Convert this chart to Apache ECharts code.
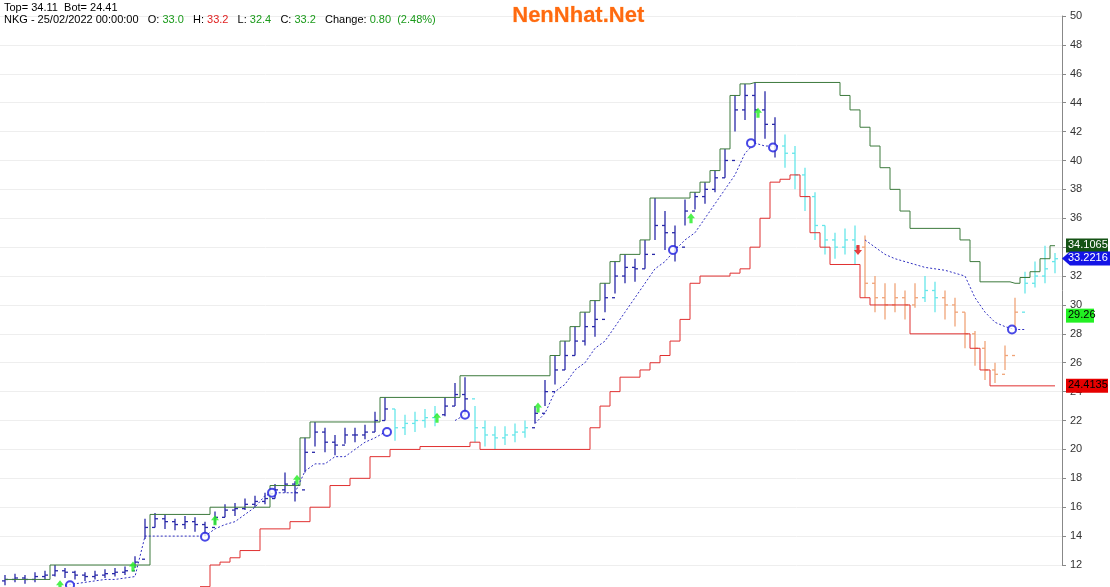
<!DOCTYPE html><html><head><meta charset="utf-8">
<script src="https://cdn.jsdelivr.net/npm/echarts@6/dist/echarts.min.js"></script>
<style>html,body{margin:0;background:#fff}#c{width:1110px;height:587px}</style></head><body><div id="c"></div>
<script>
const closes=[11.0,11.1,11.0,11.2,11.3,11.6,11.5,11.3,11.2,11.3,11.4,11.5,11.6,12.2,14.6,15.2,15.0,14.8,15.0,14.8,14.6,15.3,15.8,15.9,16.2,16.4,16.6,17.2,17.6,17.0,19.8,21.2,20.5,20.3,21.0,21.0,21.2,22.0,22.8,21.5,21.8,22.0,22.2,22.4,23.0,23.8,23.5,21.5,21.0,20.8,21.0,21.2,21.5,22.5,24.0,25.5,26.5,27.5,28.5,29.0,30.5,32.0,32.6,32.5,33.5,35.5,35.0,34.0,36.5,37.5,38.0,38.8,40.0,43.5,44.5,43.5,42.5,41.0,40.5,39.0,37.5,35.5,34.5,34.0,34.5,34.0,31.5,30.5,30.0,30.5,30.0,30.5,31.0,30.5,30.0,29.5,28.0,27.0,25.5,25.2,26.5,29.5,31.5,32.0,32.5,33.2];
const opens=[10.9,11.0,11.1,11.0,11.2,11.3,11.6,11.5,11.3,11.2,11.3,11.4,11.5,11.6,12.4,14.6,15.2,15.0,14.8,15.0,14.8,14.6,15.3,15.8,15.9,16.2,16.4,16.6,17.2,17.6,17.2,19.8,21.2,20.5,20.3,21.0,21.0,21.2,22.0,22.8,21.5,21.8,22.0,22.2,22.4,23.0,23.8,23.5,21.5,21.0,20.8,21.0,21.2,21.5,22.5,24.0,25.5,26.5,27.5,28.5,29.0,30.5,32.0,32.6,32.5,33.5,35.5,35.0,34.0,36.5,37.5,38.0,38.8,40.0,43.5,44.5,43.5,42.5,41.0,40.5,39.0,37.5,35.5,34.5,34.0,34.5,34.0,31.5,30.5,30.0,30.5,30.0,30.5,31.0,30.5,30.0,29.5,28.0,27.0,25.5,25.2,26.5,29.5,31.5,32.0,33.0];
const highs=[11.3,11.4,11.3,11.5,11.6,12.0,11.8,11.6,11.5,11.6,11.7,11.8,11.9,12.6,15.2,15.6,15.5,15.2,15.4,15.3,15.0,15.7,16.2,16.3,16.6,16.8,17.0,17.6,18.4,17.8,20.8,21.9,21.5,21.0,21.5,21.5,21.7,22.6,23.6,22.8,22.4,22.6,22.8,23.0,23.6,24.6,25.0,23.0,22.0,21.6,21.6,21.8,22.0,23.0,24.8,26.5,27.5,28.5,29.5,30.3,31.5,33.0,33.5,33.2,34.5,37.4,36.5,35.5,37.3,37.8,38.5,39.3,40.8,44.5,45.3,45.4,44.8,43.0,41.8,41.0,39.5,37.8,35.5,35.0,35.3,35.5,34.8,32.0,31.5,31.5,31.0,31.5,32.0,31.6,31.0,30.5,29.5,28.2,27.5,26.0,27.2,30.5,32.3,33.0,34.1,33.6];
const lows=[10.6,10.8,10.7,10.8,11.0,11.2,11.1,11.0,10.9,11.0,11.1,11.2,11.3,11.8,13.8,14.6,14.5,14.4,14.5,14.3,14.0,14.8,15.3,15.4,15.8,16.0,16.2,16.6,17.0,16.4,18.4,20.2,19.8,19.6,20.4,20.5,20.7,21.2,22.0,20.6,21.0,21.2,21.5,21.6,22.3,23.0,22.4,20.5,20.2,20.0,20.3,20.5,20.8,21.8,23.0,24.5,25.5,26.5,27.2,27.8,29.5,30.8,31.5,31.6,32.5,34.5,33.8,33.0,35.5,36.6,37.0,37.8,38.8,42.0,42.8,41.2,41.5,40.2,39.5,38.0,36.5,34.5,33.5,33.2,33.5,32.8,30.5,29.5,29.0,29.5,29.0,29.8,30.2,29.5,29.0,28.5,27.0,25.8,24.8,24.6,25.5,28.3,30.8,31.2,31.5,32.2];
const colors="BBBBBBBBBBBBBBBBBBBBBBBBBBBBBBBBBBBBBBBCCCCCBBBCCCCCCBBBBBBBBBBBBBBBBBBBBBBBBBCCCCCCCCOOOOOOCCOOOOOOOOCCCCB";
const topLine=[11.0,11.0,11.0,11.0,11.0,12.0,12.0,12.0,12.0,12.0,12.0,12.0,12.0,12.0,12.0,15.5,15.5,15.5,15.5,15.5,15.5,16.0,16.0,16.0,16.0,16.0,16.0,17.5,17.5,17.5,20.8,21.9,21.9,21.9,21.9,21.9,21.9,21.9,23.6,23.6,23.6,23.6,23.6,23.6,23.6,23.6,25.1,25.1,25.1,25.1,25.1,25.1,25.1,25.1,25.1,26.5,27.5,28.5,29.5,30.3,31.5,33.0,33.5,33.5,34.5,37.4,37.4,37.4,37.4,37.8,38.5,39.3,40.8,44.5,45.3,45.4,45.4,45.4,45.4,45.4,45.4,45.4,45.4,45.4,44.5,43.5,42.3,41.0,39.5,38.0,36.5,35.3,35.3,35.3,35.3,35.3,34.5,33.0,31.6,31.6,31.6,31.5,31.9,32.3,33.2,34.1];
const botLine=[null,null,null,null,null,null,null,null,null,null,null,null,null,null,null,null,null,null,null,null,10.5,12.0,12.2,12.5,13.0,13.0,14.5,14.5,14.5,15.0,15.0,16.0,16.0,17.5,17.5,18.0,18.0,19.5,19.5,20.0,20.0,20.0,20.2,20.2,20.2,20.2,20.2,20.5,20.0,20.0,20.0,20.0,20.0,20.0,20.0,20.0,20.0,20.0,20.0,21.5,23.0,24.0,25.0,25.0,25.5,26.0,26.5,27.5,29.0,31.5,32.0,32.0,32.0,32.2,32.5,34.0,36.0,38.5,38.7,39.0,37.5,35.0,34.0,32.8,32.8,32.8,30.5,30.0,30.0,30.0,30.0,28.0,28.0,28.0,28.0,28.0,28.0,27.0,25.5,24.4,24.4,24.4,24.4,24.4,24.4,24.4];
const dotLine=[null,null,null,null,null,null,10.6,10.7,10.8,10.9,11.0,11.0,11.1,11.2,14.0,14.0,14.0,14.0,14.0,14.0,14.0,14.5,14.8,15.0,15.5,16.0,16.8,17.0,17.0,17.0,18.5,19.0,19.0,19.5,19.5,20.0,20.5,20.8,21.2,null,null,null,null,null,null,22.0,22.4,null,null,null,null,null,null,21.8,22.5,24.0,24.5,25.5,26.0,27.0,27.5,28.5,29.5,30.5,31.5,32.5,33.0,33.8,34.5,35.0,36.0,37.0,38.0,39.0,40.5,41.2,41.0,41.0,null,null,null,null,null,null,null,null,34.5,34.0,33.5,33.2,33.0,32.8,32.6,32.5,32.4,32.2,32.0,30.5,29.5,28.8,28.5,28.3,28.3];
const upArrows=[[5.5,10.6],[12.8,11.9],[21,15.1],[29.2,17.9],[43.2,22.2],[53.3,22.9],[68.6,36.0],[75.3,43.3]];
const downArrows=[[85.3,33.8]];
const circles=[[6.5,10.6],[20,13.95],[26.7,17.0],[38.2,21.2],[46,22.4],[66.8,33.8],[74.6,41.2],[76.8,40.9],[100.7,28.3]];
const tags=[{v:34.1065,bg:'#145214',fg:'#fff'},{v:33.2216,bg:'#1414e6',fg:'#fff'},{v:29.26,bg:'#22f022',fg:'#000'},{v:24.4135,bg:'#e60000',fg:'#000'}];

const colMap={B:'#2828a8',C:'#66e6ea',O:'#f0a478'};
const ohlc=closes.map((c,i)=>[i,opens[i],highs[i],lows[i],c,colors[i]]);
const pair=a=>a.map((v,i)=>[i,v]);
const ch=echarts.init(document.getElementById('c'));
const baseGraphic=[
  {type:'text',left:4,top:2,style:{text:'Top= 34.11  Bot= 24.41',font:'11px "Liberation Sans"',fill:'#000'},z:20},
  {type:'text',left:4,top:14,style:{rich:{k:{fill:'#000',font:'11px "Liberation Sans"'},g:{fill:'#1a9a1a',font:'11px "Liberation Sans"'},r:{fill:'#e02020',font:'11px "Liberation Sans"'}},
    text:'{k|NKG - 25/02/2022 00:00:00   O: }{g|33.0}{k|   H: }{r|33.2}{k|   L: }{g|32.4}{k|   C: }{g|33.2}{k|   Change: }{g|0.80  (2.48%)}'},z:20},
  {type:'text',left:512,top:5,style:{text:'NenNhat.Net',font:'bold 22px "Liberation Sans"',fill:'#ff6a10',stroke:'#ffd0a0',lineWidth:0.5},z:20}
];
ch.setOption({
 animation:false,
 grid:{left:0,right:48,top:16,bottom:22},
 xAxis:{type:'value',min:-0.5,max:105.7,show:false,splitLine:{show:false}},
 yAxis:{type:'value',position:'right',min:12,max:50,interval:2,
   axisLine:{show:true,onZero:false,lineStyle:{color:'#888'}},axisTick:{show:true,length:4,lineStyle:{color:'#888'}},
   axisLabel:{color:'#333',fontSize:11,fontFamily:'Liberation Sans',margin:8},
   splitLine:{lineStyle:{color:'#eeeeee'}}},
 series:[
  {type:'line',data:pair(topLine),step:'middle',symbol:'none',clip:false,lineStyle:{color:'#3d7a3d',width:1}},
  {type:'line',data:pair(botLine),step:'middle',symbol:'none',clip:false,lineStyle:{color:'#e03030',width:1}},
  {type:'line',data:pair(dotLine),symbol:'none',clip:false,lineStyle:{color:'#3030c0',width:1,type:[2,2]}},
  {type:'custom',clip:false,data:ohlc,renderItem:(p,api)=>{
    const i=api.value(0),o=api.coord([i,api.value(1)]),h=api.coord([i,api.value(2)]),l=api.coord([i,api.value(3)]),c=api.coord([i,api.value(4)]);
    const col=colMap[ohlc[p.dataIndex][5]];
    const st={stroke:col,lineWidth:1.3};
    return {type:'group',children:[
     {type:'line',shape:{x1:h[0],y1:h[1],x2:l[0],y2:l[1]},style:st},
     {type:'line',shape:{x1:o[0]-3,y1:o[1],x2:o[0],y2:o[1]},style:st},
     {type:'line',shape:{x1:c[0],y1:c[1],x2:c[0]+3,y2:c[1]},style:st}]};
  }},
  {type:'scatter',data:circles,symbol:'circle',symbolSize:8,clip:false,itemStyle:{color:'#fff',borderColor:'#1a1ae0',borderWidth:2},z:5},
  {type:'scatter',data:upArrows,symbol:'path://M5,0 L10,5 L7,5 L7,10 L3,10 L3,5 L0,5 Z',symbolSize:[8,10],clip:false,itemStyle:{color:'#22ee22'},z:5},
  {type:'scatter',data:downArrows,symbol:'path://M5,10 L10,5 L7,5 L7,0 L3,0 L3,5 L0,5 Z',symbolSize:[8,10],clip:false,itemStyle:{color:'#e01010'},z:5}
 ]
});
const g=[];
tags.forEach((t,k)=>{
 const y=ch.convertToPixel({yAxisIndex:0},t.v);
 if(k===1){g.push({type:'polygon',shape:{points:[[1062,y],[1070,y-7],[1110,y-7],[1110,y+7],[1070,y+7]]},style:{fill:t.bg},z:10});
   g.push({type:'text',left:1068,top:y-6,style:{text:t.v.toFixed(4),font:'11px "Liberation Sans"',fill:t.fg},z:11});}
 else{const s=t.v.toFixed(t.v===29.26?2:4);
   g.push({type:'rect',shape:{x:1066,y:y-7,width:s.length>5?42:28,height:14},style:{fill:t.bg},z:10});
   g.push({type:'text',left:1068,top:y-6,style:{text:s,font:'11px "Liberation Sans"',fill:t.fg},z:11});}
});
ch.setOption({graphic:baseGraphic.concat(g)});
</script></body></html>
